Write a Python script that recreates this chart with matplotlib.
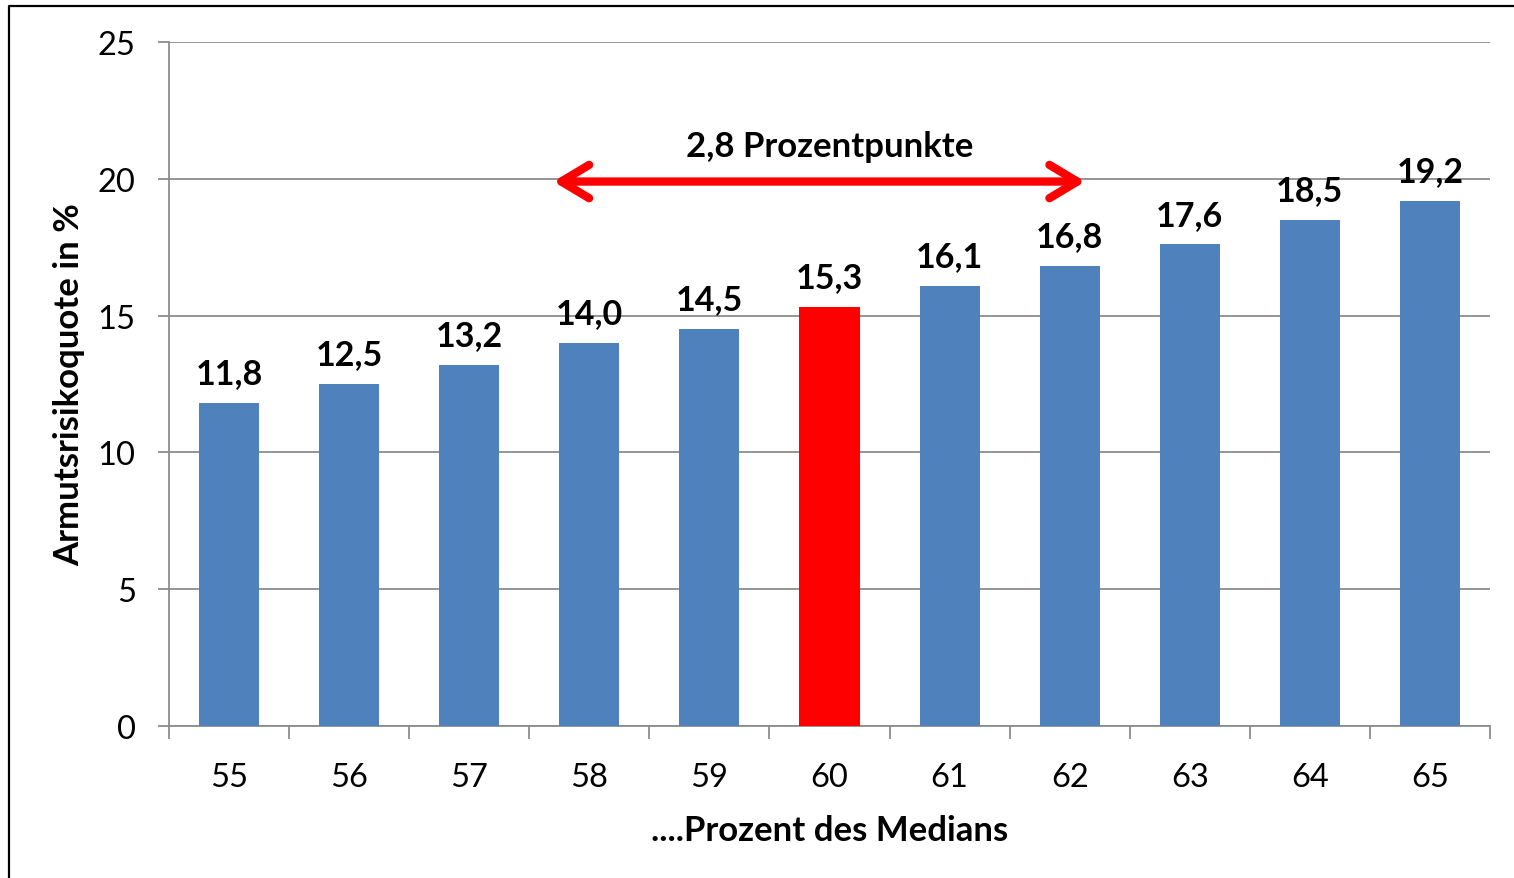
import matplotlib
matplotlib.use("Agg")
import matplotlib.pyplot as plt
from matplotlib.lines import Line2D

# --- data ---
categories = ["55", "56", "57", "58", "59", "60", "61", "62", "63", "64", "65"]
values = [11.8, 12.5, 13.2, 14.0, 14.5, 15.3, 16.1, 16.8, 17.6, 18.5, 19.2]
highlight = "60"
arrow_text = "2,8 Prozentpunkte"
y_ticks = [0, 5, 10, 15, 20, 25]

BLUE = "#4F81BD"
RED = "#FF0000"
GRID = "#8C8C8C"

plt.rcParams["font.family"] = ["Lato", "DejaVu Sans"]

W, H = 1514, 879
fig = plt.figure(figsize=(W / 100, H / 100), dpi=100)
ax = fig.add_axes([169 / W, 1 - 727 / H, (1490 - 169) / W, (727 - 43) / H])

x = list(range(len(categories)))
colors = [RED if c == highlight else BLUE for c in categories]
ax.bar(x, values, width=0.5, color=colors, zorder=3)

for xi, v in zip(x, values):
    ax.annotate(f"{v:.1f}".replace(".", ","), (xi, v), xytext=(0, 10),
                textcoords="offset points", ha="center", va="bottom",
                fontsize=24.5, fontweight="bold")

ax.set_xlim(-0.5, len(categories) - 0.5)
ax.set_ylim(0, 25)
ax.set_yticks(y_ticks)
ax.set_yticklabels([str(t) for t in y_ticks])
ax.set_xticks(x)
ax.set_xticklabels(categories)
ax.set_xticks([i - 0.5 for i in range(len(categories) + 1)], minor=True)

ax.tick_params(axis="y", length=8, width=1.3, color=GRID, pad=16, labelsize=23.5)
ax.tick_params(axis="x", which="major", length=0, pad=26, labelsize=23.5)
ax.tick_params(axis="x", which="minor", length=9, width=1.3, color=GRID)

ax.grid(axis="y", color=GRID, linewidth=1.3, zorder=0)
for side in ("top", "right"):
    ax.spines[side].set_visible(False)
for side in ("left", "bottom"):
    ax.spines[side].set_color(GRID)
    ax.spines[side].set_linewidth(1.3)

ax.set_ylabel("Armutsrisikoquote in %", fontsize=25, fontweight="bold", labelpad=9)
ax.set_xlabel("....Prozent des Medians", fontsize=25, fontweight="bold", labelpad=16)

# double arrow spanning 58..62
ax.annotate("", xy=(2.7, 19.9), xytext=(7.13, 19.9),
            arrowprops=dict(arrowstyle="<->,head_length=2.0,head_width=1.2",
                            color=RED, lw=6, shrinkA=0, shrinkB=0,
                            capstyle="round", joinstyle="round"))
ax.text(5.0, 21.2, arrow_text, ha="center", va="center",
        fontsize=25, fontweight="bold")

# outer chart frame (clipped by image edge at right/bottom)
fig.add_artist(Line2D([9 / W, 9 / W, 1.05], [-0.05, 1 - 7 / H, 1 - 7 / H],
                      transform=fig.transFigure, color="black", lw=1.6))

fig.savefig("out.png", dpi=100)
